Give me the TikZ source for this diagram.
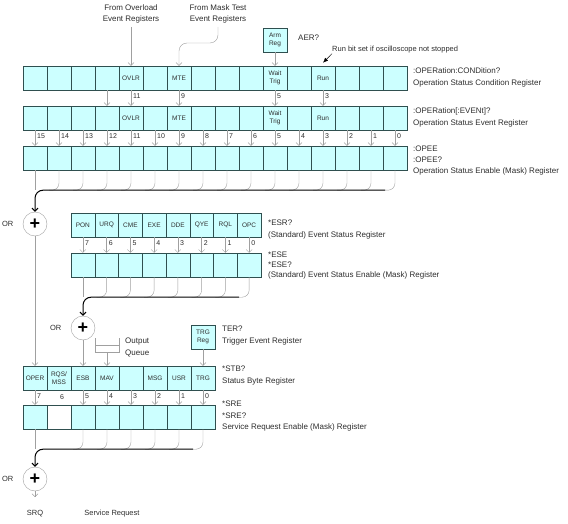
\documentclass[tikz,border=0pt]{standalone}
\usepackage{fontspec}
\setmainfont{Liberation Sans}
\usetikzlibrary{positioning,arrows.meta}

\definecolor{regfill}{RGB}{204,255,255}
\definecolor{regline}{RGB}{47,79,79}
\definecolor{tapgray}{RGB}{160,160,160}
\definecolor{txtgray}{RGB}{45,45,45}

\begin{document}
\begin{tikzpicture}[x=1pt,y=-1pt,
  every node/.style={text=txtgray},
  reg/.style={rectangle,draw=regline,fill=regfill,minimum width=24pt,minimum height=24pt,inner sep=0pt,align=center,font=\fontsize{6.5}{8}\selectfont},
  feed/.style={draw=tapgray,-{Straight Barb[length=3pt,width=6pt]}},
  tap/.style={draw=tapgray,rounded corners=7pt},
  bus/.style={draw=black,line width=1pt,rounded corners=8pt,-{Straight Barb[length=3pt,width=6pt]}},
  bitnum/.style={anchor=west,inner sep=2pt,yshift=1.5pt,font=\fontsize{7}{8}\selectfont},
  orgate/.style={circle,draw=tapgray,fill=white,minimum size=24pt,inner sep=0pt,text=black,font=\fontsize{18}{18}\bfseries\selectfont},
  desc/.style={anchor=north west,inner sep=0pt,align=left,font=\fontsize{8}{12}\selectfont}]

\useasboundingbox (0,0) rectangle (568,524);

% Operation Status registers
\foreach \b/\t in {15/{},14/{},13/{},12/{},11/OVLR,10/{},9/MTE,8/{},7/{},6/{},5/{Wait\\Trig},4/{},3/Run,2/{},1/{},0/{}} {
  \node[reg] (cond-\b) at ({35+24*(15-\b)},78) {\t};
  \node[reg] (ev-\b) at ({35+24*(15-\b)},118) {\t};
  \node[reg] (en-\b) at ({35+24*(15-\b)},158) {};
}

\node[align=center,font=\fontsize{8}{11}\selectfont] (ovl) at (131,14) {From Overload\\Event Registers};
\node[align=center,font=\fontsize{8}{11}\selectfont] (mask) at (218,14) {From Mask Test\\Event Registers};
\node[reg] (armreg) at (275,40) {Arm\\Reg};
\node[desc] (aer) at (298,35) {AER?};
\node[anchor=west,inner sep=0pt,font=\fontsize{7.5}{9}\selectfont] (runnote) at (332,50) {Run bit set if oscilloscope not stopped};

\draw[feed] (ovl.south) -- (cond-11.north);
\draw[feed,rounded corners=8pt] (mask.south) |- (cond-9.north |- 0,43) -- (cond-9.north);
\draw[feed] (armreg.south) -- (cond-5.north);
\draw[black,-{Latex[length=5pt,width=4pt]}] (runnote.south west) -- ([yshift=3pt]cond-3.north);

\node[desc] (condtxt) at (413,68) {:OPERation:CONDition?\\Operation Status Condition Register};
\node[desc] (evtxt) at (413,108) {:OPERation[:EVENt]?\\Operation Status Event Register};
\node[desc,font=\fontsize{8}{11}\selectfont] (entxt) at (413,146) {:OPEE\\:OPEE?\\Operation Status Enable (Mask) Register};

\draw[feed] (cond-12.south) -- (ev-12.north);
\foreach \b in {11,9,5,3}
  \draw[feed] (cond-\b.south) -- (ev-\b.north) node[bitnum,midway] {\b};
\foreach \b in {15,...,0}
  \draw[feed] (ev-\b.south) -- (en-\b.north) node[bitnum,midway] {\b};

% summary of the enabled bits
\foreach \b in {14,...,0}
  \draw[tap] (en-\b.south) |- ++(-10,20);
\draw[tap] (en-15.south) -- ++(0,20);
\node[orgate] (or1) at (35,224) {+};
\node[left=6pt of or1,font=\fontsize{7.5}{9}\selectfont] (or1txt) {OR};
\draw[bus] (en-0.south) ++(-10,20) -| (or1.north);

% Standard Event Status
\foreach \b/\t [count=\i from 0] in {7/PON,6/URQ,5/CME,4/EXE,3/DDE,2/QYE,1/RQL,0/OPC} {
  \node[reg,minimum width=23.75pt] (esr-\b) at ({82.875+23.75*\i},225) {\t};
  \node[reg,minimum width=23.75pt] (ese-\b) at ({82.875+23.75*\i},265) {};
}
\node[desc] (esrtxt) at (268,220) {*ESR?\\(Standard) Event Status Register};
\node[desc,font=\fontsize{8}{10}\selectfont] (esetxt) at (268,252) {*ESE\\*ESE?\\(Standard) Event Status Enable (Mask) Register};

\foreach \b in {7,...,0}
  \draw[feed] (esr-\b.south) -- (ese-\b.north) node[bitnum,midway] {\b};
\foreach \b in {6,...,0}
  \draw[tap] (ese-\b.south) |- ++(-10,20);
\draw[tap] (ese-7.south) -- ++(0,20);
\node[orgate] (or2) at (83,328) {+};
\node[left=6pt of or2,font=\fontsize{7.5}{9}\selectfont] (or2txt) {OR};
\draw[bus] (ese-0.south) ++(-10,20) -| (or2.north);

% Output queue
\draw[tapgray] (95,338) -- (95,352) -- (119,352) -- (119,338);
\draw[tapgray] (95,345) -- (119,345);
\coordinate (queue) at (107,352);
\node[anchor=west,inner sep=0pt,align=left,font=\fontsize{8}{12}\selectfont] (queuetxt) at (125,347) {Output\\Queue};

\node[reg] (trgreg) at (203,337) {TRG\\Reg};
\node[desc] (tertxt) at (222,326) {TER?\\Trigger Event Register};

% Status Byte and Service Request Enable
\foreach \b/\t/\f in {7/OPER/regfill,6/{RQS/\\MSS}/white,5/ESB/regfill,4/MAV/regfill,3/{}/regfill,2/MSG/regfill,1/USR/regfill,0/TRG/regfill} {
  \node[reg] (stb-\b) at ({35+24*(7-\b)},378) {\t};
  \node[reg,fill=\f] (sre-\b) at ({35+24*(7-\b)},417) {};
}
\node[desc] (stbtxt) at (222,366) {*STB?\\Status Byte Register};
\node[desc,font=\fontsize{8}{11.5}\selectfont] (sretxt) at (222,401) {*SRE\\*SRE?\\Service Request Enable (Mask) Register};

\draw[feed] (or1.south) -- (stb-7.north);
\draw[feed] (or2.south) -- (stb-5.north);
\draw[feed] (queue) -- (stb-4.north);
\draw[feed] (trgreg.south) -- (stb-0.north);

\foreach \b in {7,5,4,3,2,1,0}
  \draw[feed] (stb-\b.south) -- (sre-\b.north) node[bitnum,midway] {\b};
\node[font=\fontsize{7}{8}\selectfont] (bitsix) at (62,397) {6};

\foreach \b in {5,...,0}
  \draw[tap] (sre-\b.south) |- ++(-10,20);
\draw[tap] (sre-7.south) -- ++(0,20);
\node[orgate] (or3) at (35,479) {+};
\node[left=6pt of or3,font=\fontsize{7.5}{9}\selectfont] (or3txt) {OR};
\draw[bus] (sre-0.south) ++(-10,20) -| (or3.north);

\coordinate (srqend) at (35,497);
\draw[feed] (or3.south) -- (srqend);
\node[font=\fontsize{7.5}{9}\selectfont] (srq) at (35,514) {SRQ};
\node[font=\fontsize{7.5}{9}\selectfont] (srqtxt) at (112,514) {Service Request};

\end{tikzpicture}
\end{document}
